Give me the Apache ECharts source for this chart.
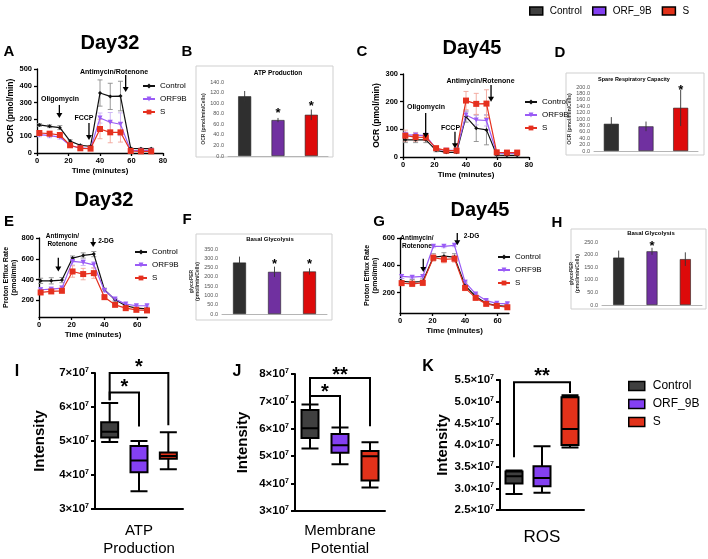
<!DOCTYPE html>
<html>
<head>
<meta charset="utf-8">
<script src="https://cdn.jsdelivr.net/npm/echarts@6/dist/echarts.min.js"></script>
<style>
  html, body { margin: 0; padding: 0; background: #fff; }
  #main { width: 708px; height: 559px; }
</style>
</head>
<body>
<div id="main"></div>
<script>
// ---- data ----
// seahorse time points (minutes)
var timeOCR = [1.5, 8, 14.5, 21, 27.5, 34, 40, 46.5, 53, 59.5, 66, 72.5];
var timePER = [1, 7.5, 14, 20.5, 27, 33.5, 40, 46.5, 53, 59.5, 66];

// A: OCR day32
var ocrA_ctrl = [167, 159, 151, 71, 46, 40, 357, 337, 339, 28, 26, 26];
var ocrA_ctrlErr = [8, 8, 12, 8, 5, 5, 78, 78, 88, 5, 4, 4];
var ocrA_orf = [109, 103, 95, 44, 30, 26, 208, 183, 171, 14, 14, 14];
var ocrA_orfErr = [12, 12, 12, 6, 5, 5, 30, 58, 68, 4, 4, 4];
var ocrA_s = [119, 115, 107, 46, 28, 26, 143, 123, 123, 12, 10, 10];
var ocrA_sErr = [14, 12, 12, 6, 5, 5, 58, 62, 58, 4, 4, 4];

// C: OCR day45
var ocrC_ctrl = [62, 62, 62, 24, 17, 17, 146, 104, 98, 7, 6, 6];
var ocrC_ctrlErr = [10, 10, 10, 5, 4, 4, 20, 48, 54, 3, 3, 3];
var ocrC_orf = [80, 79, 77, 29, 24, 24, 152, 134, 132, 14, 13, 13];
var ocrC_orfErr = [10, 10, 10, 5, 4, 4, 15, 18, 20, 3, 3, 3];
var ocrC_s = [77, 72, 71, 32, 23, 23, 204, 192, 193, 17, 16, 16];
var ocrC_sErr = [20, 15, 12, 5, 4, 4, 33, 38, 50, 3, 3, 3];

// E: proton efflux day32
var perE_ctrl = [388, 388, 395, 607, 632, 645, 302, 205, 148, 125, 119];
var perE_ctrlErr = [25, 30, 25, 20, 25, 25, 15, 12, 10, 8, 8];
var perE_orf = [302, 308, 318, 575, 565, 542, 295, 212, 164, 148, 148];
var perE_orfErr = [20, 20, 20, 35, 30, 30, 15, 12, 10, 8, 8];
var perE_s = [276, 286, 292, 478, 453, 462, 231, 157, 125, 109, 103];
var perE_sErr = [15, 20, 15, 55, 55, 50, 20, 12, 10, 10, 8];

// G: proton efflux day45
var perG_ctrl = [283, 276, 281, 460, 467, 460, 252, 171, 121, 104, 99];
var perG_ctrlErr = [20, 20, 20, 25, 25, 25, 25, 20, 15, 10, 10];
var perG_orf = [318, 313, 318, 539, 539, 546, 276, 190, 141, 121, 117];
var perG_orfErr = [15, 10, 10, 10, 10, 10, 15, 10, 8, 8, 8];
var perG_s = [269, 264, 271, 455, 443, 448, 234, 161, 117, 102, 92];
var perG_sErr = [15, 20, 20, 25, 25, 25, 20, 15, 10, 8, 8];

// bar panels (Control, ORF9B, S)
var barCats = ['Control', 'ORF9B', 'S'];
var atpB = [113, 68, 78], atpBErr = [10, 4, 10];
var srcD = [85, 77, 135], srcDErr = [21, 15, 57];
var glyF = [277, 227, 229], glyFErr = [32, 28, 17];
var glyH = [188, 213, 182], glyHErr = [28, 14, 27];
var starsB = [[1, 86], [2, 100]];
var starsD = [[2, 198]];
var starsF = [[1, 283], [2, 283]];
var starsH = [[1, 245]];

// box plots, units of 1e7: [min, Q1, median, Q3, max]
var boxI = [[4.97, 5.10, 5.27, 5.55, 6.12], [3.52, 4.08, 4.43, 4.85, 5.00], [4.17, 4.48, 4.56, 4.66, 5.26]];
var boxJ = [[5.28, 5.66, 6.02, 6.69, 6.89], [4.71, 5.13, 5.40, 5.81, 6.05], [3.86, 4.11, 5.00, 5.19, 5.51]];
var boxK = [[2.87, 3.11, 3.28, 3.39, 3.41], [2.90, 3.05, 3.24, 3.51, 3.97], [3.94, 4.00, 4.37, 5.10, 5.15]];
// significance brackets: [fromIdx, top, toIdx, leftEnd, rightEnd, starY]
var bracketsI = [[0, 7.0, 2, 6.2, 5.46, 7.31], [0, 6.43, 1, 6.2, 5.43, 6.71]];
var bracketsJ = [[0, 7.85, 2, 6.9, 6.09, 8.14], [0, 7.2, 1, 6.9, 6.06, 7.5]];
var bracketsK = [[0, 5.45, 2, 3.72, 5.2, 5.69]];
var bracketLabelsI = ['*', '*'], bracketLabelsJ = ['**', '*'], bracketLabelsK = ['**'];

// drug injection annotations [x, yStart, yEnd] and text [label, x, y]
var arrowsA = [[14.2, 286, 208], [33, 178, 77], [56.3, 464, 363]];
var notesA = [['Oligomycin', 14.6, 321], ['FCCP', 29.8, 206], ['Antimycin/Rotenone', 48.9, 482]];
var arrowsC = [[14.4, 159, 69], [33, 91, 32], [55.9, 260, 200]];
var notesC = [['Oligomycin', 14.6, 181], ['FCCP', 30.2, 106], ['Antimycin/Rotenone', 49.2, 275]];
var arrowsE = [[11.8, 610, 478], [33.1, 800, 713]];
var notesE = [['Antimycin/\nRotenone', 14.3, 780], ['2-DG', 40.9, 767]];
var arrowsG = [[14.3, 448, 350], [35.2, 637, 546]];
var notesG = [['Antimycin/\nRotenone', 10.4, 568], ['2-DG', 44, 612]];

// ---- styles ----
var font = 'Arial, "Liberation Sans", Helvetica, sans-serif';
var colCtrl = '#111111', colOrf = '#9a5cf6', colS = '#e5301f';
var errCtrl = '#8c8c8c', errOrf = '#c9b0f5', errS = '#f2a59a';
var barCtrl = '#2f2f2f', barOrf = '#7030a0', barS = '#dd0a0a';
var boxCtrl = '#3f3f3f', boxOrf = '#8440f2', boxS = '#e2321a';

var myChart = echarts.init(document.getElementById('main'));

var grids = [
  {left: 37, top: 69, width: 126, height: 84},   // A
  {left: 228, top: 82, width: 100, height: 74},  // B
  {left: 403, top: 74, width: 126, height: 83},  // C
  {left: 594, top: 87, width: 104, height: 64},  // D
  {left: 39, top: 238, width: 108, height: 79},  // E
  {left: 222, top: 249, width: 105, height: 65}, // F
  {left: 400, top: 238, width: 109, height: 75}, // G
  {left: 602, top: 242, width: 100, height: 63}, // H
  {left: 95, top: 373, width: 88, height: 140},  // I
  {left: 295, top: 374, width: 90, height: 139}, // J
  {left: 500, top: 380, width: 84, height: 130}  // K
];

function lineX(grid, max, vals) {
  return {
    type: 'value', gridIndex: grid, min: 0, max: max,
    name: 'Time (minutes)', nameLocation: 'middle', nameGap: 14,
    nameTextStyle: {fontFamily: font, fontWeight: 'bold', fontSize: 8, color: '#000'},
    axisLine: {lineStyle: {color: '#000', width: 1.3}},
    axisTick: {show: true, length: 3, customValues: vals, lineStyle: {color: '#000', width: 1.3}},
    axisLabel: {fontFamily: font, fontWeight: 'bold', fontSize: 7.5, color: '#000', margin: 4, customValues: vals},
    splitLine: {show: false}
  };
}
function lineY(grid, min, max, vals, name, gap, size) {
  return {
    type: 'value', gridIndex: grid, min: min, max: max,
    name: name, nameLocation: 'middle', nameGap: gap,
    nameTextStyle: {fontFamily: font, fontWeight: 'bold', fontSize: size, color: '#000', lineHeight: size + 1},
    axisLine: {show: true, lineStyle: {color: '#000', width: 1.3}},
    axisTick: {show: true, length: 3, customValues: vals, lineStyle: {color: '#000', width: 1.3}},
    axisLabel: {fontFamily: font, fontWeight: 'bold', fontSize: 7.5, color: '#000', margin: 5, customValues: vals},
    splitLine: {show: false}
  };
}
function barX(grid) {
  return {
    type: 'category', gridIndex: grid, data: barCats,
    axisLine: {lineStyle: {color: '#b5b5b5', width: 1}},
    axisTick: {show: false}, axisLabel: {show: false}
  };
}
function barY(grid, max, interval, name, gap) {
  return {
    type: 'value', gridIndex: grid, min: 0, max: max, interval: interval,
    name: name, nameLocation: 'middle', nameGap: gap,
    nameTextStyle: {fontFamily: font, fontWeight: 'bold', fontSize: 5, color: '#333', lineHeight: 6},
    axisLine: {show: false}, axisTick: {show: false},
    axisLabel: {fontFamily: font, fontSize: 5.5, color: '#555', margin: 4, formatter: function (v) { return v.toFixed(1); }},
    splitLine: {show: false}
  };
}
function boxX(grid, name, gap, size) {
  return {
    type: 'category', gridIndex: grid, data: ['Control', 'ORF_9B', 'S'],
    name: name, nameLocation: 'middle', nameGap: gap,
    nameTextStyle: {fontFamily: font, fontSize: size, color: '#000', lineHeight: 18},
    axisLine: {lineStyle: {color: '#000', width: 2}},
    axisTick: {show: false}, axisLabel: {show: false}
  };
}
function boxY(grid, min, max, interval, dec, gap) {
  return {
    type: 'value', gridIndex: grid, min: min, max: max, interval: interval,
    name: 'Intensity', nameLocation: 'middle', nameGap: gap,
    nameTextStyle: {fontFamily: font, fontWeight: 'bold', fontSize: 15, color: '#000'},
    axisLine: {show: true, lineStyle: {color: '#000', width: 2}},
    axisTick: {show: true, length: 4, lineStyle: {color: '#000', width: 2}},
    axisLabel: {
      margin: 6,
      formatter: function (v) { return '{b|' + v.toFixed(dec) + '×10}{s|7}'; },
      rich: {
        b: {fontFamily: font, fontWeight: 'bold', fontSize: 11.5, color: '#000'},
        s: {fontFamily: font, fontWeight: 'bold', fontSize: 7, color: '#000', verticalAlign: 'top', padding: [0, 0, 6, 0]}
      }
    },
    splitLine: {show: false}
  };
}

function lineSeries(name, grid, xs, ys, color, symbol, size, rotate) {
  return {
    type: 'line', name: name, xAxisIndex: grid, yAxisIndex: grid, z: 3,
    data: xs.map(function (x, i) { return [x, ys[i]]; }),
    symbol: symbol, symbolSize: size, symbolRotate: rotate || 0, showAllSymbol: true,
    lineStyle: {color: color, width: 1.2}, itemStyle: {color: color}
  };
}
function errSeries(grid, xs, ys, es, color, cap, z) {
  return {
    type: 'custom', xAxisIndex: grid, yAxisIndex: grid, z: z || 1, silent: true,
    data: xs.map(function (x, i) { return [x, ys[i], es[i]]; }),
    renderItem: function (params, api) {
      var x = api.value(0), y = api.value(1), e = api.value(2);
      var top = api.coord([x, y + e]), bot = api.coord([x, y - e]);
      var st = {stroke: color, lineWidth: 0.9};
      return {type: 'group', children: [
        {type: 'line', shape: {x1: top[0], y1: top[1], x2: bot[0], y2: bot[1]}, style: st},
        {type: 'line', shape: {x1: top[0] - cap, y1: top[1], x2: top[0] + cap, y2: top[1]}, style: st},
        {type: 'line', shape: {x1: bot[0] - cap, y1: bot[1], x2: bot[0] + cap, y2: bot[1]}, style: st}
      ]};
    }
  };
}
function arrowSeries(grid, arrows) {
  return {
    type: 'custom', xAxisIndex: grid, yAxisIndex: grid, z: 6, silent: true, data: arrows,
    renderItem: function (params, api) {
      var a = api.coord([api.value(0), api.value(1)]);
      var b = api.coord([api.value(0), api.value(2)]);
      return {type: 'group', children: [
        {type: 'line', shape: {x1: a[0], y1: a[1], x2: b[0], y2: b[1] - 3}, style: {stroke: '#000', lineWidth: 1.3}},
        {type: 'polygon', shape: {points: [[b[0] - 3, b[1] - 5], [b[0] + 3, b[1] - 5], [b[0], b[1]]]}, style: {fill: '#000'}}
      ]};
    }
  };
}
function noteSeries(grid, notes, size) {
  return {
    type: 'custom', xAxisIndex: grid, yAxisIndex: grid, z: 6, silent: true,
    data: notes.map(function (n) { return [n[1], n[2]]; }),
    renderItem: function (params, api) {
      var p = api.coord([api.value(0), api.value(1)]);
      return {type: 'text', x: p[0], y: p[1], style: {
        text: notes[params.dataIndex][0], fill: '#000', font: 'bold ' + size + 'px ' + font,
        align: 'center', verticalAlign: 'middle', lineHeight: size + 1.5
      }};
    }
  };
}
function barSeries(name, grid, idx, vals, color, width) {
  var d = ['-', '-', '-'];
  d[idx] = vals[idx];
  return {
    type: 'bar', name: name, xAxisIndex: grid, yAxisIndex: grid, data: d,
    barWidth: width, barGap: '-100%', z: 2,
    itemStyle: {color: color, borderColor: '#222', borderWidth: 0.6}
  };
}
function starSeries(grid, stars, text, size) {
  return {
    type: 'custom', xAxisIndex: grid, yAxisIndex: grid, z: 6, silent: true, data: stars,
    renderItem: function (params, api) {
      var p = api.coord([api.value(0), api.value(1)]);
      return {type: 'text', x: p[0], y: p[1] + size * 0.25, style: {
        text: text, fill: '#000', font: 'bold ' + size + 'px ' + font, align: 'center', verticalAlign: 'middle'
      }};
    }
  };
}
function boxSeries(grid, boxes) {
  var cols = [boxCtrl, boxOrf, boxS];
  return {
    type: 'boxplot', xAxisIndex: grid, yAxisIndex: grid, boxWidth: [17, 17], z: 3,
    itemStyle: {borderColor: '#000', borderWidth: 2},
    data: boxes.map(function (b, i) { return {value: b, itemStyle: {color: cols[i]}}; })
  };
}
function bracketSeries(grid, brs, labels) {
  return {
    type: 'custom', xAxisIndex: grid, yAxisIndex: grid, z: 5, silent: true, data: brs,
    renderItem: function (params, api) {
      var x1 = api.value(0), top = api.value(1), x2 = api.value(2);
      var pl = api.coord([x1, api.value(3)]), tl = api.coord([x1, top]);
      var tr = api.coord([x2, top]), pr = api.coord([x2, api.value(4)]);
      var sy = api.coord([x1, api.value(5)])[1];
      return {type: 'group', children: [
        {type: 'polyline', shape: {points: [pl, tl, tr, pr]}, style: {stroke: '#000', lineWidth: 2, fill: null}},
        {type: 'text', x: (tl[0] + tr[0]) / 2, y: sy + 5, style: {
          text: labels[params.dataIndex], fill: '#000', font: 'bold 20px ' + font, align: 'center', verticalAlign: 'middle'
        }}
      ]};
    }
  };
}

function txt(text, x, y, size, weight) {
  return {type: 'text', x: x, y: y, silent: true, style: {
    text: text, fill: '#000', font: (weight || 'bold') + ' ' + size + 'px ' + font, align: 'center', verticalAlign: 'middle'
  }};
}
function frame(x, y, w, h) {
  return {type: 'rect', shape: {x: x, y: y, width: w, height: h}, silent: true,
    style: {fill: null, stroke: '#cfcfcf', lineWidth: 1}};
}

var xAxes = [
  lineX(0, 80, [0, 20, 40, 60, 80]),
  barX(1),
  lineX(2, 80, [0, 20, 40, 60, 80]),
  barX(3),
  lineX(4, 66, [0, 20, 40, 60]),
  barX(5),
  lineX(6, 67, [0, 20, 40, 60]),
  barX(7),
  boxX(8, 'ATP\nProduction', 13, 15),
  boxX(9, 'Membrane\nPotential', 11, 15),
  boxX(10, 'ROS', 18, 17)
];
var yAxes = [
  lineY(0, 0, 500, [0, 100, 200, 300, 400, 500], 'OCR (pmol/min)', 17, 8.5),
  barY(1, 140, 20, 'OCR (pmol/min/Cells)', 19),
  lineY(2, 0, 300, [0, 100, 200, 300], 'OCR (pmol/min)', 15, 8.5),
  barY(3, 200, 20, 'OCR (pmol/min/Cells)', 17),
  lineY(4, 40, 800, [200, 400, 600, 800], 'Proton Efflux Rate\n(pmol/min)', 16, 7),
  barY(5, 350, 50, 'glycoPER\n(pmol/min/Cells)', 17),
  lineY(6, 50, 600, [200, 400, 600], 'Proton Efflux Rate\n(pmol/min)', 16, 7),
  barY(7, 250, 50, 'glycoPER\n(pmol/min/Cells)', 17),
  boxY(8, 3, 7, 1, 0, 48),
  boxY(9, 3, 8, 1, 0, 45),
  boxY(10, 2.5, 5.5, 0.5, 1, 48)
];

var series = [
  // line panels first (their legends use these names)
  errSeries(0, timeOCR, ocrA_ctrl, ocrA_ctrlErr, errCtrl, 2.5),
  errSeries(0, timeOCR, ocrA_orf, ocrA_orfErr, errOrf, 2.5),
  errSeries(0, timeOCR, ocrA_s, ocrA_sErr, errS, 2.5),
  lineSeries('Control', 0, timeOCR, ocrA_ctrl, colCtrl, 'diamond', 4),
  lineSeries('ORF9B', 0, timeOCR, ocrA_orf, colOrf, 'triangle', 5, 180),
  lineSeries('S', 0, timeOCR, ocrA_s, colS, 'rect', 6),
  arrowSeries(0, arrowsA), noteSeries(0, notesA, 7),

  errSeries(2, timeOCR, ocrC_ctrl, ocrC_ctrlErr, errCtrl, 2.5),
  errSeries(2, timeOCR, ocrC_orf, ocrC_orfErr, errOrf, 2.5),
  errSeries(2, timeOCR, ocrC_s, ocrC_sErr, errS, 2.5),
  lineSeries('Control', 2, timeOCR, ocrC_ctrl, colCtrl, 'diamond', 4),
  lineSeries('ORF9B', 2, timeOCR, ocrC_orf, colOrf, 'triangle', 5, 180),
  lineSeries('S', 2, timeOCR, ocrC_s, colS, 'rect', 6),
  arrowSeries(2, arrowsC), noteSeries(2, notesC, 7),

  errSeries(4, timePER, perE_ctrl, perE_ctrlErr, errCtrl, 2.5),
  errSeries(4, timePER, perE_orf, perE_orfErr, errOrf, 2.5),
  errSeries(4, timePER, perE_s, perE_sErr, errS, 2.5),
  lineSeries('Control', 4, timePER, perE_ctrl, colCtrl, 'diamond', 4),
  lineSeries('ORF9B', 4, timePER, perE_orf, colOrf, 'triangle', 5, 180),
  lineSeries('S', 4, timePER, perE_s, colS, 'rect', 6),
  arrowSeries(4, arrowsE), noteSeries(4, notesE, 6.5),

  errSeries(6, timePER, perG_ctrl, perG_ctrlErr, errCtrl, 2.5),
  errSeries(6, timePER, perG_orf, perG_orfErr, errOrf, 2.5),
  errSeries(6, timePER, perG_s, perG_sErr, errS, 2.5),
  lineSeries('Control', 6, timePER, perG_ctrl, colCtrl, 'diamond', 4),
  lineSeries('ORF9B', 6, timePER, perG_orf, colOrf, 'triangle', 5, 180),
  lineSeries('S', 6, timePER, perG_s, colS, 'rect', 6),
  arrowSeries(6, arrowsG), noteSeries(6, notesG, 6.5)
];

// bar panels
[[1, atpB, atpBErr, starsB, 13], [3, srcD, srcDErr, starsD, 15], [5, glyF, glyFErr, starsF, 13], [7, glyH, glyHErr, starsH, 11]]
  .forEach(function (p) {
    series.push(barSeries('Control', p[0], 0, p[1], barCtrl, p[4]));
    series.push(barSeries('ORF_9B', p[0], 1, p[1], barOrf, p[4]));
    series.push(barSeries('S', p[0], 2, p[1], barS, p[4]));
    series.push(errSeries(p[0], [0, 1, 2], p[1], p[2], '#333', 0, 4));
    series.push(starSeries(p[0], p[3], '*', 13));
  });

// box plot panels
series.push(boxSeries(8, boxI), bracketSeries(8, bracketsI, bracketLabelsI));
series.push(boxSeries(9, boxJ), bracketSeries(9, bracketsJ, bracketLabelsJ));
series.push(boxSeries(10, boxK), bracketSeries(10, bracketsK, bracketLabelsK));

function lineLegend(left, top, gap) {
  return {
    data: ['Control', 'ORF9B', 'S'], orient: 'vertical', left: left, top: top,
    itemWidth: 12, itemHeight: 6, itemGap: gap, selectedMode: false,
    textStyle: {fontFamily: font, fontSize: 8, color: '#000', padding: [0, 0, 0, 0]}
  };
}
var boxLegendData = [
  {name: 'Control', icon: 'rect', itemStyle: {color: boxCtrl}},
  {name: 'ORF_9B', icon: 'rect', itemStyle: {color: boxOrf}},
  {name: 'S', icon: 'rect', itemStyle: {color: boxS}}
];

var option = {
  animation: false,
  backgroundColor: '#fff',
  grid: grids,
  xAxis: xAxes,
  yAxis: yAxes,
  legend: [
    {
      data: boxLegendData, orient: 'horizontal', left: 524, top: 1,
      itemWidth: 13, itemHeight: 8, itemGap: 10, selectedMode: false,
      itemStyle: {borderColor: '#000', borderWidth: 1.5},
      textStyle: {fontFamily: font, fontSize: 10, color: '#000', padding: [0, 0, 0, 2]}
    },
    {
      data: boxLegendData, orient: 'vertical', left: 623, top: 375,
      itemWidth: 16, itemHeight: 9, itemGap: 6, selectedMode: false,
      itemStyle: {borderColor: '#000', borderWidth: 1.5},
      textStyle: {fontFamily: font, fontSize: 12, color: '#000', padding: [0, 0, 0, 3]}
    },
    lineLegend(137, 77, 5),
    lineLegend(519, 93, 5),
    lineLegend(129, 243, 5),
    lineLegend(492, 248, 5)
  ],
  graphic: [
    frame(196, 66, 137, 91), frame(566, 73, 138, 82), frame(196, 234, 136, 86), frame(571, 229, 135, 80),
    txt('Day32', 110, 43, 20), txt('Day45', 472, 48, 20), txt('Day32', 104, 200, 20), txt('Day45', 480, 210, 20),
    txt('A', 9, 52, 15), txt('B', 187, 52, 15), txt('C', 362, 52, 15), txt('D', 560, 53, 15),
    txt('E', 9, 222, 15), txt('F', 187, 220, 15), txt('G', 379, 222, 15), txt('H', 557, 223, 15),
    txt('I', 17, 372, 16), txt('J', 237, 372, 16), txt('K', 428, 367, 16),
    txt('ATP Production', 278, 73, 6.5), txt('Spare Respiratory Capacity', 634, 79, 5.5),
    txt('Basal Glycolysis', 270, 239, 6), txt('Basal Glycolysis', 651, 233, 6)
  ],
  series: series
};

myChart.setOption(option);
</script>
</body>
</html>
